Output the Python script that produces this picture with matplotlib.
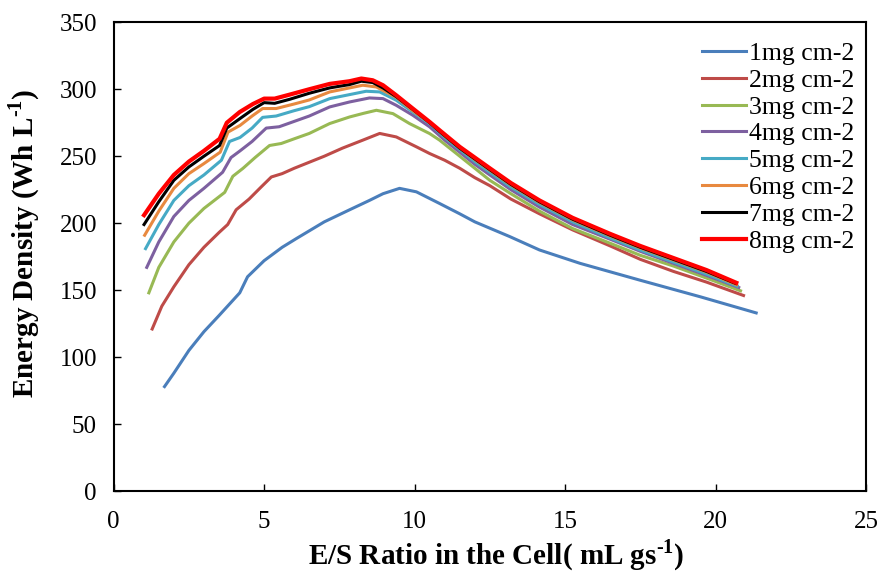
import matplotlib
matplotlib.use("Agg")
import matplotlib.pyplot as plt

plt.rcParams["font.family"] = ["Liberation Serif", "DejaVu Serif"]
plt.rcParams["mathtext.fontset"] = "custom"
plt.rcParams["mathtext.rm"] = "Liberation Serif:bold"
plt.rcParams["mathtext.bf"] = "Liberation Serif:bold"

# E/S ratio (x) and energy density (y), one pair per loading
x_1mg = [1.69, 2, 2.5, 3, 3.5, 4.19, 4.45, 5, 5.6, 6.07, 7, 7.84, 8.5, 8.95, 9.5, 10.06,
         10.83, 11.5, 12, 13.16, 14.15, 15.5, 17.48, 19.5, 21.35]
y_1mg = [78, 88, 105, 119, 131, 148, 160, 172, 182, 188.5, 201, 210, 217, 222, 226, 223.4,
         214.7, 207, 201, 190, 180, 170, 157.5, 145, 133]

x_2mg = [1.28, 1.6, 2, 2.5, 3, 3.5, 3.79, 4.07, 4.5, 4.9, 5.24, 5.6, 6, 7, 7.6, 8.28, 8.84,
         9.39, 10.06, 10.5, 11, 11.5, 12, 12.5, 13.2, 14.15, 15.25, 16.5, 17.5, 18.6, 19.7,
         20.93]
y_2mg = [121, 138, 152.5, 169, 182, 193, 199, 210, 218, 227, 234.5, 237, 241, 250, 256,
         262, 267, 264.4, 257, 252, 247, 241, 234, 228, 218, 207, 195, 183, 173, 164, 156,
         146]

x_3mg = [1.17, 1.5, 2, 2.5, 3, 3.69, 3.96, 4.3, 4.7, 5.18, 5.57, 6, 6.5, 7.18, 7.84, 8.3,
         8.73, 9.28, 9.83, 10.5, 10.83, 11.5, 12, 12.5, 13.2, 14.15, 15.25, 16.5, 17.5,
         18.6, 19.7, 20.83]
y_3mg = [148, 167, 186, 200, 211, 223, 235, 241, 249, 258, 259.5, 263, 267, 274.4, 279.3,
         282, 284.3, 281.8, 274.4, 266.9, 262, 250, 241, 232, 222, 209, 196, 185, 176,
         168, 159, 149.5]

x_4mg = [1.10, 1.5, 2, 2.5, 3, 3.62, 3.9, 4.2, 4.6, 5.07, 5.5, 6, 6.5, 7.18, 7.84, 8.5,
         8.95, 9.39, 9.94, 10.5, 11, 11.5, 12, 12.5, 13.2, 14.15, 15.25, 16.5, 17.5, 18.6,
         19.7, 20.77]
y_4mg = [167, 186, 205, 217, 226, 238, 249, 254, 261, 271, 272, 276, 280, 286.8, 290.5,
         293.5, 293, 288, 280.6, 271.9, 262, 253, 244, 236, 225, 212, 199, 188, 179, 170,
         161, 152]

x_5mg = [1.06, 1.5, 2, 2.5, 3, 3.58, 3.85, 4.2, 4.6, 4.95, 5.4, 6, 6.5, 7.18, 7.84, 8.39,
         8.84, 9.39, 9.94, 10.5, 11, 11.5, 12, 12.5, 13.2, 14.15, 15.25, 16.5, 17.5, 18.6,
         19.7, 20.72]
y_5mg = [181, 199, 217, 228, 236, 247, 261, 264, 271, 279, 280, 284, 287, 293, 296,
         298.5, 298, 291.8, 283, 274.4, 264, 255, 246, 238, 227, 214, 201, 189, 180, 171,
         162, 153]

x_6mg = [1.03, 1.5, 2, 2.5, 3, 3.54, 3.8, 4.2, 4.6, 4.95, 5.4, 6, 6.5, 7.18, 7.84, 8.28,
         8.73, 9.39, 9.94, 10.5, 11, 11.5, 12, 12.5, 13.2, 14.15, 15.25, 16.5, 17.5, 18.6,
         19.7, 20.7]
y_6mg = [191, 209, 226, 237, 244.5, 253, 268, 273, 280, 285.6, 285.6, 289, 292, 298, 301,
         303, 301.7, 294, 284, 275, 265, 256, 247.5, 239.5, 228.5, 215.5, 202.5, 190.5,
         181.5, 172.5, 163.5, 154]

x_7mg = [1.01, 1.5, 2, 2.5, 3, 3.52, 3.76, 4.19, 4.63, 5.0, 5.35, 5.85, 6.5, 7.18, 7.84,
         8.23, 8.61, 8.95, 9.39, 9.94, 10.5, 10.83, 11.5, 12, 12.5, 13.2, 14.15, 15.25,
         16.5, 17.5, 18.6, 19.7, 20.67]
y_7mg = [199, 216, 232, 242, 250, 258, 271, 278, 285, 290, 289.5, 292.5, 297, 301, 303.5,
         306, 305, 301, 294.5, 285, 275, 268.5, 256, 248, 240, 229, 216, 203, 191, 182,
         173, 164, 155]

x_8mg = [1.01, 1.5, 2, 2.5, 3, 3.52, 3.76, 4.19, 4.63, 5.0, 5.35, 5.85, 6.5, 7.18, 7.84,
         8.23, 8.61, 8.95, 9.39, 9.94, 10.5, 10.83, 11.5, 12, 12.5, 13.2, 14.15, 15.25,
         16.5, 17.5, 18.6, 19.7, 20.69]
y_8mg = [206, 222, 236, 246, 254, 263, 275, 283, 289, 293, 293, 296, 300, 304, 306, 308,
         306.7, 303, 295.5, 285.6, 275.6, 269.4, 257, 249, 241, 230, 217, 204, 192, 183,
         174, 165, 155.5]

labels = ["1mg cm-2", "2mg cm-2", "3mg cm-2", "4mg cm-2",
          "5mg cm-2", "6mg cm-2", "7mg cm-2", "8mg cm-2"]
colors = ["#4A7EBB", "#BE4B48", "#98B954", "#7D60A0",
          "#46AAC5", "#E8893F", "#000000", "#FF0000"]

series = [(x_1mg, y_1mg), (x_2mg, y_2mg), (x_3mg, y_3mg), (x_4mg, y_4mg),
          (x_5mg, y_5mg), (x_6mg, y_6mg), (x_7mg, y_7mg), (x_8mg, y_8mg)]

fig = plt.figure(figsize=(8.81, 5.71), dpi=100)
ax = fig.add_axes([0.129, 0.14, 0.854, 0.821])

for (xs, ys), lab, col in zip(series, labels, colors):
    lw = 3.0 if col == "#FF0000" else 2.2
    ax.plot(xs, ys, color=col, lw=lw, label=lab, solid_joinstyle="round")

ax.set_xlim(0, 25)
ax.set_ylim(0, 350)
ax.set_xticks(range(0, 26, 5))
ax.set_yticks(range(0, 351, 50))
ax.tick_params(direction="in", length=5, width=1, labelsize=18)
ax.tick_params(axis="x", pad=14)
ax.tick_params(axis="y", pad=12)
for sp in ax.spines.values():
    sp.set_linewidth(1.5)

ax.set_xlabel(r"E/S Ratio in the Cell( mL gs$^{\text{-1}}$)", fontsize=21,
              fontweight="bold")
ax.xaxis.set_label_coords(0.509, -0.098)
ax.set_ylabel(r"Energy Density (Wh L$^{\text{-1}}$)", fontsize=21,
              fontweight="bold")
ax.yaxis.set_label_coords(-0.095, 0.528)

leg = ax.legend(loc="upper right", bbox_to_anchor=(0.984, 0.958), frameon=False,
                fontsize=18.5, handlelength=1.72, handletextpad=0.1, labelspacing=0.15,
                borderaxespad=0, borderpad=0)

fig.savefig("out.png", dpi=100)
